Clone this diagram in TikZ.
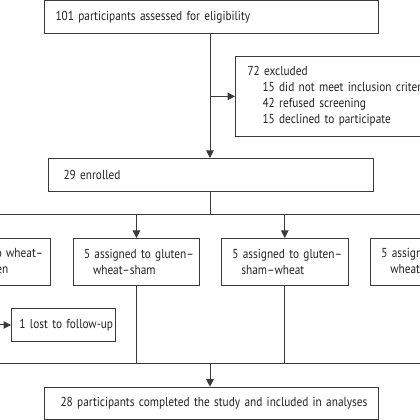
\documentclass[tikz,border=0pt]{standalone}
\usepackage{fontspec}
\setmainfont{PT Sans}[FakeStretch=0.87]
\usetikzlibrary{arrows.meta,positioning}
\definecolor{flowline}{HTML}{3A3A3A}
\definecolor{flowtext}{HTML}{222222}

\begin{document}
\begin{tikzpicture}[x=1pt,y=1pt,>={Triangle[length=7.5pt,width=7.5pt]},line width=1pt,
    every node/.style={font=\fontsize{13}{16}\selectfont,text=flowtext},
    box/.style={draw=flowline,fill=white,align=left,inner ysep=0pt,anchor=north west}]
      \useasboundingbox (0,0) rectangle (420,420);
      \clip (0,0) rectangle (420,420);
      \node[box,inner xsep=11pt,text width=312pt,minimum height=33pt] (assess) at (44,419.5) {\mbox{101 participants assessed for eligibility}};
      \node[box,inner xsep=12pt,text width=200pt,minimum height=79.7pt] (excl) at (235,364) {72 excluded\\
        \hspace*{15pt}\mbox{15 did not meet inclusion criteria}\\
        \hspace*{15pt}\mbox{42 refused screening}\\
        \hspace*{15pt}\mbox{15 declined to participate}};
      \node[box,inner xsep=15pt,text width=295pt,minimum height=33pt] (enrol) at (48,262) {29 enrolled};
      \foreach \n/\x/\a/\b in {wsg/-76.3/wheat--/sham--gluten,gws/72.7/gluten--/wheat--sham,gsw/221/gluten--/sham--wheat,swg/370/sham--/wheat--gluten}
        \node[box,inner xsep=10.8pt,text width=104.9pt,minimum height=47.3pt] (\n) at (\x,182) {\mbox{5 assigned to \a}\\\hspace*{9pt}\mbox{\b}};
      \node[box,inner xsep=8pt,text width=87.7pt,minimum height=32.4pt] (lost) at (11,111.7) {\mbox{1 lost to follow-up}};
      \node[box,inner xsep=15.7pt,text width=302pt,minimum height=32.6pt] (final) at (44.3,33.3) {\mbox{28 participants completed the study and included in analyses}};
      \coordinate (split) at (210,205.5);
      \coordinate (merge) at (210,56.7);
      \draw[->,flowline] (split |- assess.south) -- (split |- enrol.north);
      \draw[->,flowline] (split |- excl.west) -- (excl.west);
      \draw[flowline] (split |- enrol.south) -- (split);
      \draw[flowline] (wsg.north |- split) -- (swg.north |- split);
      \foreach \n in {wsg,gws,gsw,swg} {
        \draw[->,flowline] (\n.north |- split) -- (\n.north);
        \draw[flowline] (\n.south) -- (\n.south |- merge);
      }
      \draw[flowline] (wsg.south |- merge) -- (swg.south |- merge);
      \draw[->,flowline] (wsg.south |- lost.west) -- (lost.west);
      \draw[->,flowline] (merge) -- (merge |- final.north);
    \end{tikzpicture}
\end{document}
